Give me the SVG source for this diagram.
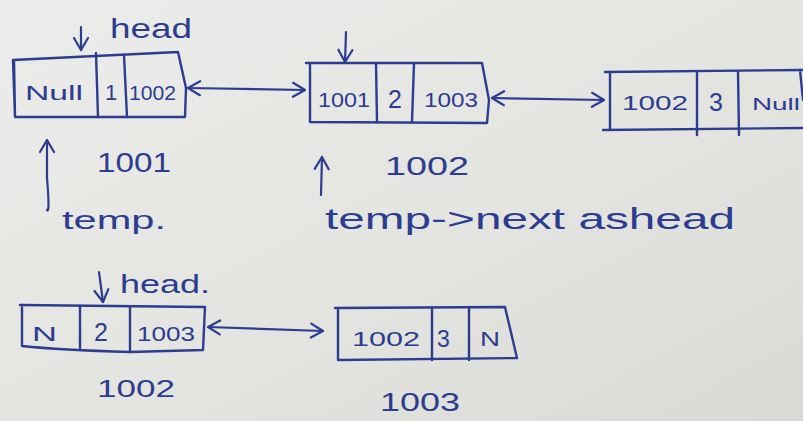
<svg xmlns="http://www.w3.org/2000/svg" width="803" height="421" viewBox="0 0 803 421">
  <defs>
    <linearGradient id="paper" x1="0" y1="0" x2="1" y2="1">
      <stop offset="0" stop-color="#ececea"/>
      <stop offset="0.6" stop-color="#e3e3e0"/>
      <stop offset="1" stop-color="#d9d9d6"/>
    </linearGradient>
    <marker id="chev" viewBox="-14 -9 16 18" refX="0" refY="0" markerWidth="16" markerHeight="18" markerUnits="userSpaceOnUse" orient="auto-start-reverse">
      <path d="M-12,-7 L0,0 L-12,7" fill="none" stroke="#2c3d8f" stroke-width="2.2" stroke-linecap="round" stroke-linejoin="round"/>
    </marker>
    <style>
      .ink { fill: none; stroke: #2c3d8f; stroke-width: 2.4; stroke-linecap: round; stroke-linejoin: round; }
      .arrow { fill: none; stroke: #2c3d8f; stroke-width: 2.2; stroke-linecap: round; marker-end: url(#chev); }
      .both { marker-start: url(#chev); }
      text { font-family: "Liberation Sans", "DejaVu Sans", sans-serif; fill: #2c3d8f; }
      .cell { font-size: 21px; }
      .digit { font-size: 25px; }
      .lbl { font-size: 27px; }
    </style>
  </defs>

  <rect width="803" height="421" fill="url(#paper)"/>

  <!-- list before the update: Null|1|1002 <-> 1001|2|1003 <-> 1002|3|Null -->
  <g id="node-1001">
    <path class="ink" d="M13,60 L178,52 L186,88 L185,117 L15,117 Z M14,60 L15,117"/>
    <path class="ink" d="M96,53 L98,117 M124,55 L127,117"/>
    <text class="cell" x="25" y="100" textLength="58" lengthAdjust="spacingAndGlyphs">Null</text>
    <text class="cell" x="105" y="100" style="font-size:22px">1</text>
    <text class="cell" x="129" y="100" textLength="47" lengthAdjust="spacingAndGlyphs">1002</text>
  </g>

  <g id="node-1002">
    <path class="ink" d="M306,63 L482,63 L489,100 L487,123 L310,122 L310,65"/>
    <path class="ink" d="M376,63 L377,122 M414,64 L412,122"/>
    <text class="cell" x="318" y="107" textLength="52" lengthAdjust="spacingAndGlyphs">1001</text>
    <text class="digit" x="388" y="108">2</text>
    <text class="cell" x="424" y="107" textLength="54" lengthAdjust="spacingAndGlyphs">1003</text>
  </g>

  <g id="node-1003">
    <path class="ink" d="M605,72 L803,70 M610,73 L610,130 M603,130 L803,128 M800,70 L803,100"/>
    <path class="ink" d="M697,73 L697,135 M738,72 L739,135"/>
    <text class="cell" x="622" y="110" textLength="66" lengthAdjust="spacingAndGlyphs">1002</text>
    <text class="digit" x="709" y="111">3</text>
    <text class="cell" x="752" y="110" style="font-size:17px" textLength="48" lengthAdjust="spacingAndGlyphs">Null</text>
  </g>

  <!-- list after the update: N|2|1003 <-> 1002|3|N -->
  <g id="node-1002-new">
    <path class="ink" d="M20,305 L205,307 L203,350 L130,352 Q60,350 22,346 L22,305"/>
    <path class="ink" d="M80,306 L80,348 M130,307 L130,352"/>
    <text class="cell" x="32" y="341" textLength="25" lengthAdjust="spacingAndGlyphs">N</text>
    <text class="digit" x="94" y="341">2</text>
    <text class="cell" x="137" y="341" textLength="58" lengthAdjust="spacingAndGlyphs">1003</text>
  </g>

  <g id="node-1003-new">
    <path class="ink" d="M335,308 L505,307 L517,358 L338,360 L338,310"/>
    <path class="ink" d="M432,308 L432,360 M469,308 L469,360"/>
    <text class="cell" x="352" y="346" textLength="68" lengthAdjust="spacingAndGlyphs">1002</text>
    <text class="digit" x="437" y="347" style="font-size:23px">3</text>
    <text class="cell" x="480" y="346" textLength="20" lengthAdjust="spacingAndGlyphs">N</text>
  </g>

  <!-- links and pointers -->
  <g id="connectors">
    <path class="arrow both" d="M188,88 L305,90"/>
    <path class="arrow both" d="M492,98 L604,100"/>
    <path class="arrow both" d="M208,327 L323,331"/>
    <path class="arrow" d="M81,27 L81,50"/>
    <path class="arrow" d="M346,32 L345,62"/>
    <path class="arrow" d="M99,272 L103,302"/>
    <path class="arrow" d="M47,210 Q50,214 47,178 L47,140"/>
    <path class="arrow" d="M321,195 L322,157"/>
  </g>

  <!-- pointer names and node addresses -->
  <g id="labels">
    <text class="lbl" x="110" y="38" style="font-size:28px" textLength="82" lengthAdjust="spacingAndGlyphs">head</text>
    <text class="lbl" x="97" y="172" textLength="74" lengthAdjust="spacingAndGlyphs">1001</text>
    <text class="lbl" x="62" y="229" style="font-size:26px" textLength="104" lengthAdjust="spacingAndGlyphs">temp.</text>
    <text class="lbl" x="385" y="175" style="font-size:25px" textLength="84" lengthAdjust="spacingAndGlyphs">1002</text>
    <text class="lbl" x="325" y="229" style="font-size:30px" textLength="410" lengthAdjust="spacingAndGlyphs">temp-&gt;next ashead</text>
    <text class="lbl" x="120" y="293" style="font-size:26px" textLength="90" lengthAdjust="spacingAndGlyphs">head.</text>
    <text class="lbl" x="97" y="397" style="font-size:24px" textLength="78" lengthAdjust="spacingAndGlyphs">1002</text>
    <text class="lbl" x="380" y="411" style="font-size:25px" textLength="80" lengthAdjust="spacingAndGlyphs">1003</text>
  </g>
</svg>
